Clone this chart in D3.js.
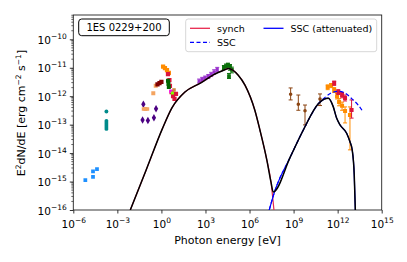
<!DOCTYPE html>
<html>
<head>
<meta charset="utf-8">
<script src="https://cdn.jsdelivr.net/npm/d3@7"></script>
<style>
  body { margin: 0; background: #fff; }
  text { font-family: "DejaVu Sans", sans-serif; fill: #000; }
</style>
</head>
<body>
<svg id="chart" width="407" height="262"></svg>
<script>
// model curves, [photon energy eV, E^2 dN/dE erg cm^-2 s^-1]
const totalModel = [
  [7.6e-3, 1e-16], [9.3e-2, 2.6e-15], [1.15, 7.1e-14], [5.2, 3.9e-13], [40, 1.4e-12],
  [450, 2.9e-12], [3.4e3, 5.6e-12], [2.2e4, 8.6e-12], [3.6e4, 9.5e-12], [1.7e5, 5.5e-12],
  [4.9e5, 2.45e-12], [2.3e6, 3.2e-13], [5.1e6, 6.5e-14], [1.5e7, 5.8e-15], [2.9e7, 9.5e-16],
  [4.1e7, 4.3e-16], [5.9e8, 7.2e-15], [4.6e9, 6.5e-14], [4.8e10, 5.4e-13], [1.2e11, 7.9e-13],
  [2.3e11, 8.5e-13], [5.0e11, 4.3e-13], [8.5e11, 1.7e-13], [1.45e12, 9.8e-14], [4.1e12, 5.0e-14],
  [6.9e12, 2.5e-14], [9.8e12, 1.3e-14], [1.35e13, 1.7e-15], [1.6e13, 1e-16]
];
const synchModel = [
  [7.6e-3, 1e-16], [9.3e-2, 2.6e-15], [1.15, 7.1e-14], [5.2, 3.9e-13], [40, 1.4e-12],
  [450, 2.9e-12], [3.4e3, 5.6e-12], [2.2e4, 8.6e-12], [3.6e4, 9.5e-12], [1.7e5, 5.5e-12],
  [4.9e5, 2.45e-12], [2.3e6, 3.2e-13], [5.1e6, 6.5e-14], [1.5e7, 5.8e-15], [2.9e7, 9.5e-16],
  [4.6e7, 1e-16]
];
const sscModel = [
  [2.2e7, 1e-16], [4.8e7, 4e-16], [5.9e8, 7.2e-15], [4.6e9, 6.5e-14], [4.8e10, 5.4e-13],
  [1.45e11, 9.3e-13], [4.3e11, 1.35e-12], [1.1e12, 1.48e-12], [3.2e12, 1.29e-12],
  [9.8e12, 7.9e-13], [2.5e13, 4.9e-13], [5.5e13, 2.75e-13]
];
const sscAttModel = [
  [2.2e7, 1e-16], [4.8e7, 4e-16], [5.9e8, 7.2e-15], [4.6e9, 6.5e-14], [4.8e10, 5.4e-13],
  [1.2e11, 7.9e-13], [2.3e11, 8.5e-13], [5.0e11, 4.3e-13], [8.5e11, 1.7e-13], [1.45e12, 9.8e-14],
  [4.1e12, 5.0e-14], [6.9e12, 2.5e-14], [9.8e12, 1.3e-14], [1.35e13, 1.7e-15], [1.6e13, 1e-16]
];

// observations, [E, flux] or [E, flux, fluxLow, fluxHigh]
const ptsBlue = [[6.6e-6, 1.12e-15], [2.2e-5, 1.45e-15], [2.2e-5, 2.3e-15], [4.1e-5, 2.75e-15]];
const ptsTeal = [[1.8e-4, 2.9e-13], [1.8e-4, 1.35e-13], [1.8e-4, 1.15e-13], [1.8e-4, 9.8e-14],
  [1.8e-4, 8.3e-14], [1.8e-4, 7.1e-14]];
const ptsIndigo = [[0.059, 5.2e-13], [0.43, 3.6e-13], [0.052, 1.45e-13], [0.12, 1.4e-13], [0.31, 1.75e-13]];
const ptsSandy = [[0.41, 2.35e-12], [0.28, 1.26e-12], [0.081, 3.55e-13]];
const sandyBarE = [0.046, 0.148];
const ptsDarkOrange = [[1.3, 1.1e-11], [1.74, 9.8e-12], [2.4, 8.3e-12], [3.2, 6.6e-12]];
const ptsMaroon = [[0.54, 2.6e-12], [0.74, 2.9e-12], [1.0, 3.2e-12]];
const ptsCrimsonOpt = [[2.8, 6.0e-12], [3.5, 3.7e-12], [3.8, 2.3e-12], [4.9, 1.4e-12], [6.2, 1.0e-12],
  [7.8, 8.1e-13], [9.8, 1.2e-12]];
const ptsGreenOpt = [[2.8, 3.5e-12], [3.0, 2.75e-12], [3.2, 2.1e-12]];
const ptsMagenta = [[4.5, 1.5e-12]];
const ptsLime = [[5.6, 1.3e-12]];
const ptsPeru = [[7.2, 1.65e-12]];
const xrayPurple = [[370, 3.4e-12, 2.9e-12, 4.0e-12], [600, 3.9e-12, 3.3e-12, 4.6e-12],
  [950, 4.4e-12, 3.8e-12, 5.1e-12], [1550, 4.9e-12, 4.2e-12, 5.8e-12], [2450, 5.8e-12, 4.9e-12, 6.9e-12],
  [3900, 7.1e-12, 6.0e-12, 8.5e-12], [6300, 8.7e-12, 7.3e-12, 1.03e-11]];
const hardXGreen = [[1.8e4, 1.02e-11, 8.7e-12, 1.2e-11], [2.5e4, 1.15e-11, 9.8e-12, 1.35e-11],
  [3.4e4, 1.26e-11, 1.05e-11, 1.45e-11], [4.7e4, 1.07e-11, 8.2e-12, 1.3e-11],
  [6.3e4, 8.5e-12, 6.6e-12, 1.05e-11], [4.0e4, 5.1e-12, 4.2e-12, 6.3e-12]];
const fermiBrown = [[6.3e8, 1.17e-12, 7.4e-13, 1.95e-12], [2.1e9, 5.2e-13, 3.2e-13, 1.1e-12],
  [6.0e9, 3.1e-13, 9.8e-14, 4.9e-13], [6.3e10, 7.9e-13, 4.7e-13, 1.2e-12]];
const tevOrange = [[2.1e11, 2.1e-12, 1.7e-12, 2.5e-12], [3.6e11, 2.4e-12, 2.0e-12, 2.8e-12],
  [5.8e11, 1.65e-12, 1.35e-12, 2.0e-12], [9.1e11, 1.0e-12, 8.0e-13, 1.25e-12],
  [1.25e12, 6.3e-13, 4.6e-13, 8.2e-13], [2.0e12, 4.6e-13, 3.2e-13, 6.2e-13],
  [3.2e12, 3.0e-13, 1.15e-13, 4.2e-13], [6.9e12, 2.2e-13, 1.3e-14, 4.2e-13]];
const tevCrimson = [[5.8e11, 2.9e-12, 2.4e-12, 3.4e-12], [1.1e12, 1.4e-12, 1.15e-12, 1.7e-12],
  [2.0e12, 1.1e-12, 8.8e-13, 1.35e-12], [3.2e12, 8.7e-13, 6.8e-13, 1.1e-12],
  [8.9e12, 3.3e-13, 1.7e-13, 7.4e-13]];

const xTickExps = [-6, -3, 0, 3, 6, 9, 12, 15];
const yTickExps = [-16, -15, -14, -13, -12, -11, -10];
const legendNames = ["synch", "SSC", "SSC (attenuated)"];
const sourceName = "1ES 0229+200";

const svg = d3.select("#chart");
const pLeft = 73.3, pRight = 381.7, pTop = 15, pBottom = 210;

const x = d3.scaleLog().domain([1e-6, 1e15]).range([pLeft, pRight]);
const y = d3.scaleLog().domain([1e-16, 7.15e-10]).range([pBottom, pTop]);

svg.append("defs").append("clipPath").attr("id", "plotclip")
  .append("rect").attr("x", pLeft).attr("y", pTop)
  .attr("width", pRight - pLeft).attr("height", pBottom - pTop);

const sup = (sel, dyUp, fs) => {
  sel.each(function (d) {
    const t = d3.select(this);
    const e = Math.round(Math.log10(d));
    t.text(null);
    t.append("tspan").text("10");
    t.append("tspan").attr("dy", dyUp).attr("font-size", fs)
      .text(e < 0 ? "\u2212" + (-e) : String(e));
  });
};

// x axis
const gx = svg.append("g")
  .attr("transform", "translate(0," + pBottom + ")")
  .call(d3.axisBottom(x).tickValues(xTickExps.map(e => 10 ** e)).tickSizeInner(3.5).tickSizeOuter(0));
gx.select(".domain").remove();
gx.selectAll(".tick line").attr("stroke", "#000").attr("stroke-width", 0.8);
gx.selectAll(".tick text")
  .attr("y", 18.3).attr("dy", null).attr("font-size", 10.5)
  .call(sup, -5.5, 7.5);

// y axis
const gy = svg.append("g")
  .attr("transform", "translate(" + pLeft + ",0)")
  .call(d3.axisLeft(y).tickValues(yTickExps.map(e => 10 ** e)).tickSizeInner(3.5).tickSizeOuter(0));
gy.select(".domain").remove();
gy.selectAll(".tick line").attr("stroke", "#000").attr("stroke-width", 0.8);
gy.selectAll(".tick text")
  .attr("x", -6.5).attr("dy", 4).attr("font-size", 10.5)
  .call(sup, -5, 7.5);

// y minor ticks
const minorY = [];
yTickExps.forEach(e => d3.range(2, 10).forEach(m => {
  const v = m * 10 ** e;
  if (v < y.domain()[1]) minorY.push(v);
}));
svg.append("g").selectAll("line").data(minorY).enter().append("line")
  .attr("x1", pLeft - 2).attr("x2", pLeft)
  .attr("y1", d => y(d)).attr("y2", d => y(d))
  .attr("stroke", "#000").attr("stroke-width", 0.6);

// frame
svg.append("rect").attr("x", pLeft).attr("y", pTop)
  .attr("width", pRight - pLeft).attr("height", pBottom - pTop)
  .attr("fill", "none").attr("stroke", "#222").attr("stroke-width", 0.9);

// axis labels
svg.append("text").attr("x", 227.5).attr("y", 244).attr("text-anchor", "middle")
  .attr("font-size", 11).text("Photon energy [eV]");
const yl = svg.append("text").attr("transform", "translate(25,113) rotate(-90)")
  .attr("text-anchor", "middle").attr("font-size", 11);
yl.append("tspan").text("E");
yl.append("tspan").attr("dy", -4.5).attr("font-size", 7.5).text("2");
yl.append("tspan").attr("dy", 4.5).text("dN/dE [erg cm");
yl.append("tspan").attr("dy", -4.5).attr("font-size", 7.5).text("\u22122");
yl.append("tspan").attr("dy", 4.5).text(" s");
yl.append("tspan").attr("dy", -4.5).attr("font-size", 7.5).text("\u22121");
yl.append("tspan").attr("dy", 4.5).text("]");

const plot = svg.append("g").attr("clip-path", "url(#plotclip)");

// observations
const series = [
  { data: ptsBlue, color: "#1e90ff", shape: d3.symbolSquare, size: 14 },
  { data: ptsTeal, color: "#008b8b", shape: d3.symbolCircle, size: 12 },
  { data: ptsIndigo, color: "#4b0082", shape: d3.symbolDiamond, size: 16 },
  { data: ptsSandy, color: "#f4a460", shape: d3.symbolSquare, size: 16 },
  { data: ptsMaroon, color: "#800000", shape: d3.symbolSquare, size: 18 },
  { data: ptsDarkOrange, color: "#ff8c00", shape: d3.symbolSquare, size: 18 },
  { data: ptsCrimsonOpt, color: "#dc143c", shape: d3.symbolSquare, size: 18 },
  { data: ptsGreenOpt, color: "#006400", shape: d3.symbolSquare, size: 16 },
  { data: ptsMagenta, color: "#ff00ff", shape: d3.symbolSquare, size: 12 },
  { data: ptsLime, color: "#7fff00", shape: d3.symbolSquare, size: 10 },
  { data: ptsPeru, color: "#cd853f", shape: d3.symbolSquare, size: 12 },
  { data: xrayPurple, color: "#9932cc", shape: d3.symbolSquare, size: 10 },
  { data: hardXGreen, color: "#0b700b", shape: d3.symbolSquare, size: 14 },
  { data: fermiBrown, color: "#8b4513", shape: d3.symbolCircle, size: 10 },
  { data: tevOrange, color: "#ff8c00", shape: d3.symbolSquare, size: 16 },
  { data: tevCrimson, color: "#dc143c", shape: d3.symbolSquare, size: 16 }
];

series.forEach(s => {
  const g = plot.append("g");
  const withErr = s.data.filter(d => d.length > 2);
  g.selectAll(".eb").data(withErr).enter().append("line")
    .attr("x1", d => x(d[0])).attr("x2", d => x(d[0]))
    .attr("y1", d => y(d[2])).attr("y2", d => y(d[3]))
    .attr("stroke", s.color).attr("stroke-width", 1);
  g.selectAll(".cap").data(withErr.flatMap(d => [[d[0], d[2]], [d[0], d[3]]])).enter().append("line")
    .attr("x1", d => x(d[0]) - 2).attr("x2", d => x(d[0]) + 2)
    .attr("y1", d => y(d[1])).attr("y2", d => y(d[1]))
    .attr("stroke", s.color).attr("stroke-width", 1);
  g.selectAll("path").data(s.data).enter().append("path")
    .attr("d", d3.symbol().type(s.shape).size(s.size))
    .attr("transform", d => "translate(" + x(d[0]) + "," + y(d[1]) + ")")
    .attr("fill", s.color);
});

// horizontal bar of the sandy band point
plot.append("line")
  .attr("x1", x(sandyBarE[0])).attr("x2", x(sandyBarE[1]))
  .attr("y1", y(ptsSandy[2][1])).attr("y2", y(ptsSandy[2][1]))
  .attr("stroke", "#f4a460").attr("stroke-width", 3.5);

// models
const line = d3.line().x(d => x(d[0])).y(d => y(d[1])).curve(d3.curveMonotoneX);
plot.append("path").datum(synchModel).attr("d", line)
  .attr("fill", "none").attr("stroke", "#e8294f").attr("stroke-width", 1.2);
plot.append("path").datum(sscModel).attr("d", line)
  .attr("fill", "none").attr("stroke", "#0000ff").attr("stroke-width", 1.2)
  .attr("stroke-dasharray", "4,2.5");
plot.append("path").datum(sscAttModel).attr("d", line)
  .attr("fill", "none").attr("stroke", "#0000ff").attr("stroke-width", 1.2);
plot.append("path").datum(totalModel).attr("d", line)
  .attr("fill", "none").attr("stroke", "#000").attr("stroke-width", 1.5);

// source label
svg.append("rect").attr("x", 78.7).attr("y", 19).attr("width", 90.6).attr("height", 16.7)
  .attr("rx", 3).attr("fill", "#fff").attr("stroke", "#000").attr("stroke-width", 1);
svg.append("text").attr("x", 124).attr("y", 31.3).attr("text-anchor", "middle")
  .attr("font-size", 10).text(sourceName);

// legend
const lg = svg.append("g");
lg.append("rect").attr("x", 185.7).attr("y", 19).attr("width", 191).attr("height", 32.7)
  .attr("rx", 2.5).attr("fill", "#fff").attr("fill-opacity", 0.8)
  .attr("stroke", "#ccc").attr("stroke-width", 0.8);
const legendItems = [
  { name: legendNames[0], color: "#e8294f", dash: null, x: 190, y: 28.3 },
  { name: legendNames[1], color: "#0000ff", dash: "4,2.5", x: 190, y: 42.3 },
  { name: legendNames[2], color: "#0000ff", dash: null, x: 263.5, y: 28.3 }
];
legendItems.forEach(it => {
  lg.append("line").attr("x1", it.x).attr("x2", it.x + 20).attr("y1", it.y).attr("y2", it.y)
    .attr("stroke", it.color).attr("stroke-width", 1.3).attr("stroke-dasharray", it.dash);
  lg.append("text").attr("x", it.x + 27).attr("y", it.y + 3.4)
    .attr("font-size", 9.5).text(it.name);
});
</script>
</body>
</html>
